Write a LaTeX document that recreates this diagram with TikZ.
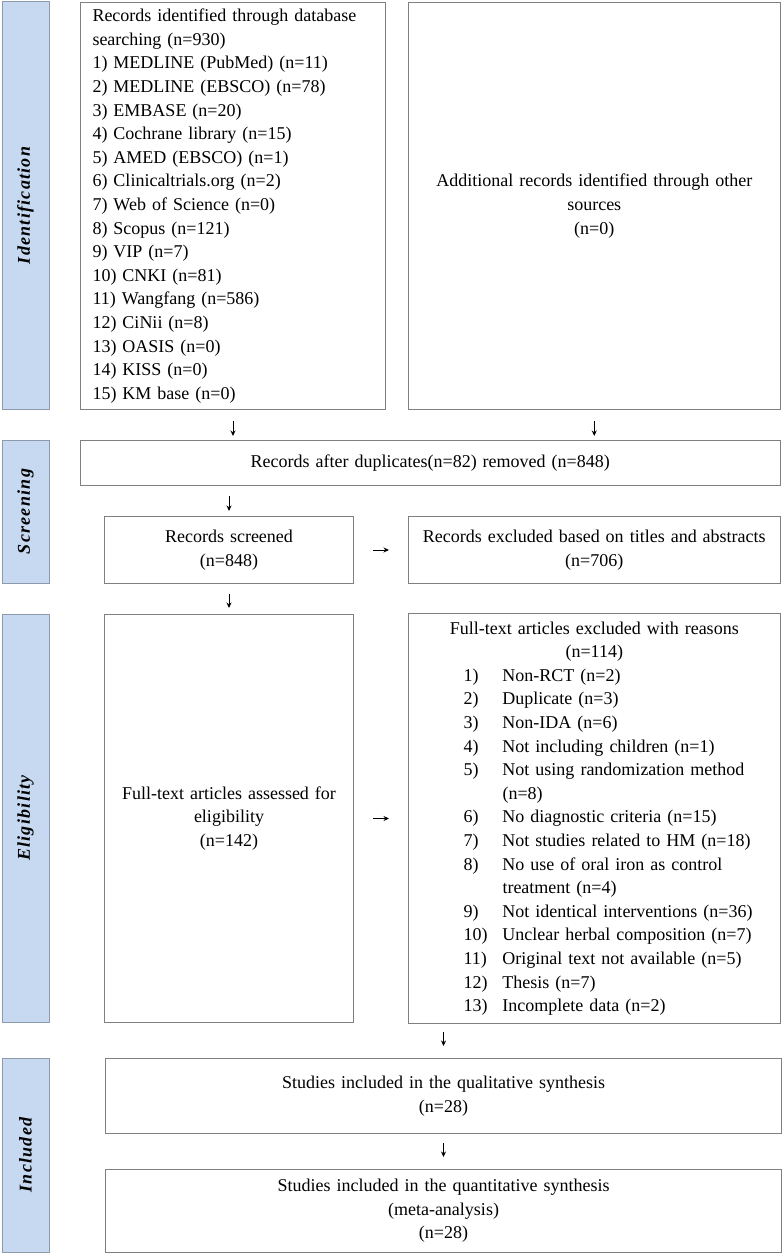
\documentclass[tikz,border=0pt]{standalone}
\usepackage{fontspec}
\setmainfont{Liberation Serif}
\newfontfamily\lblfont[LetterSpace=7]{Liberation Serif}
\usetikzlibrary{arrows.meta}
\definecolor{boxgray}{RGB}{128,128,128}
\definecolor{phasefill}{RGB}{198,217,241}
\definecolor{phaseline}{RGB}{140,154,172}
\newcommand{\itm}[2]{\hspace*{55pt}\makebox[39pt][l]{#1}#2}
\newcommand{\cnt}[1]{\hspace*{94pt}#1}
\begin{document}
\begin{tikzpicture}[x=1pt,y=-1pt,
 box/.style={draw=boxgray,line width=1pt,inner ysep=0pt,font=\fontsize{18}{23.6}\selectfont,anchor=north west},
 phase/.style={draw=phaseline,fill=phasefill,line width=1pt,rotate=90,inner sep=0pt,font=\lblfont\bfseries\itshape\fontsize{18}{20}\selectfont},
 arr/.style={-{Stealth[length=5.5pt,width=5pt]},line width=1pt,black}]
\useasboundingbox (0,0) rectangle (782,1257);
% phase bars
\node[phase,minimum width=407pt,minimum height=47pt] (pid) at (25.5,205.5) {Identification};
\node[phase,minimum width=143pt,minimum height=47pt] (psc) at (25.5,511.5) {Screening};
\node[phase,minimum width=408pt,minimum height=47pt] (pel) at (25.5,818) {Eligibility};
\node[phase,minimum width=194pt,minimum height=47pt] (pin) at (25.5,1155) {Included};
% boxes
\node[box,minimum width=305pt,minimum height=407pt,inner xsep=12pt,text width=281pt,align=left] (b1) at (80,2)
 {Records identified through database\\searching (n=930)\\1) MEDLINE (PubMed) (n=11)\\2) MEDLINE (EBSCO) (n=78)\\3) EMBASE (n=20)\\4) Cochrane library (n=15)\\5) AMED (EBSCO) (n=1)\\6) Clinicaltrials.org (n=2)\\7) Web of Science (n=0)\\8) Scopus (n=121)\\9) VIP (n=7)\\10) CNKI (n=81)\\11) Wangfang (n=586)\\12) CiNii (n=8)\\13) OASIS (n=0)\\14) KISS (n=0)\\15) KM base (n=0)};
\node[box,minimum width=371.5pt,minimum height=407pt,inner xsep=8pt,text width=355.5pt,align=center] (b2) at (408,2)
 {Additional records identified through other\\sources\\(n=0)};
\node[box,minimum width=699.5pt,minimum height=45pt,inner xsep=8pt,text width=683.5pt,align=center] (dup) at (80,440)
 {Records after duplicates(n=82) removed (n=848)};
\node[box,minimum width=249pt,minimum height=67pt,inner xsep=8pt,text width=233pt,align=center] (scr) at (104,516)
 {Records screened\\(n=848)};
\node[box,minimum width=371.5pt,minimum height=67pt,inner xsep=8pt,text width=355.5pt,align=center] (exc) at (408,516)
 {Records excluded based on titles and abstracts\\(n=706)};
\node[box,minimum width=249pt,minimum height=408pt,inner xsep=8pt,text width=233pt,align=center] (full) at (104,614)
 {Full-text articles assessed for\\eligibility\\(n=142)};
\node[box,minimum width=371.5pt,minimum height=410pt,inner xsep=0pt,text width=371.5pt,align=left] (reas) at (408,613)
 {\makebox[371.5pt]{Full-text articles excluded with reasons}\\
  \makebox[371.5pt]{(n=114)}\\
  \itm{1)}{Non-RCT (n=2)}\\
  \itm{2)}{Duplicate (n=3)}\\
  \itm{3)}{Non-IDA (n=6)}\\
  \itm{4)}{Not including children (n=1)}\\
  \itm{5)}{Not using randomization method}\\
  \cnt{(n=8)}\\
  \itm{6)}{No diagnostic criteria (n=15)}\\
  \itm{7)}{Not studies related to HM (n=18)}\\
  \itm{8)}{No use of oral iron as control}\\
  \cnt{treatment (n=4)}\\
  \itm{9)}{Not identical interventions (n=36)}\\
  \itm{10)}{Unclear herbal composition (n=7)}\\
  \itm{11)}{Original text not available (n=5)}\\
  \itm{12)}{Thesis (n=7)}\\
  \itm{13)}{Incomplete data (n=2)}};
\node[box,minimum width=676pt,minimum height=75pt,inner xsep=8pt,text width=660pt,align=center] (qual) at (105,1058)
 {Studies included in the qualitative synthesis\\(n=28)};
\node[box,minimum width=676pt,minimum height=83pt,inner xsep=8pt,text width=660pt,align=center] (quant) at (105,1169)
 {Studies included in the quantitative synthesis\\(meta-analysis)\\(n=28)};
% arrows
\draw[arr,shorten <=11pt,shorten >=4pt] (b1.south) -- (b1.south |- dup.north);
\draw[arr,shorten <=11pt,shorten >=4pt] (b2.south) -- (b2.south |- dup.north);
\draw[arr,shorten <=10pt,shorten >=5pt] (scr.north |- dup.south) -- (scr.north);
\draw[arr,shorten <=19pt,shorten >=19pt] (scr.east) -- (scr.east -| exc.west);
\draw[arr,shorten <=10pt,shorten >=6pt] (scr.south) -- (full.north);
\draw[arr,shorten <=19pt,shorten >=19pt] (full.east) -- (full.east -| reas.west);
\draw[arr,shorten <=8pt,shorten >=12pt] (qual.north |- reas.south) -- (qual.north);
\draw[arr,shorten <=9pt,shorten >=12pt] (qual.south) -- (quant.north);
\end{tikzpicture}
\end{document}
